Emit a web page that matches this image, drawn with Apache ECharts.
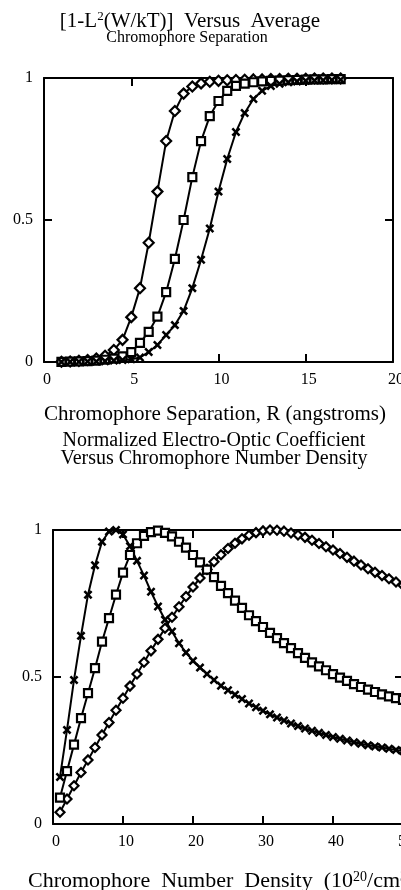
<!DOCTYPE html>
<html>
<head>
<meta charset="utf-8">
<script src="https://cdn.jsdelivr.net/npm/echarts@6/dist/echarts.min.js"></script>
<style>
html,body{margin:0;padding:0;background:#fff;}
#c{width:401px;height:890px;}
</style>
</head>
<body>
<div id="c"></div>
<script>
// ---------- Top chart data: [1-L^2(W/kT)] vs separation R ----------
const topX = [1,1.5,2,2.5,3,3.5,4,4.5,5,5.5,6,6.5,7,7.5,8,8.5,9,9.5,10,10.5,11,11.5,12,12.5,13,13.5,14,14.5,15,15.5,16,16.5,17];
const topDiamond = [0.001,0.002,0.004,0.007,0.012,0.022,0.042,0.078,0.158,0.26,0.42,0.6,0.778,0.884,0.945,0.97,0.981,0.987,0.99,0.992,0.993,0.994,0.995,0.995,0.996,0.996,0.997,0.997,0.997,0.998,0.998,0.998,0.998];
const topSquare = [0.0005,0.001,0.002,0.003,0.005,0.008,0.012,0.02,0.035,0.067,0.106,0.16,0.246,0.363,0.5,0.651,0.778,0.866,0.919,0.955,0.972,0.98,0.985,0.988,0.99,0.991,0.992,0.993,0.994,0.995,0.995,0.996,0.996];
const topCross = [0.0003,0.0006,0.001,0.0015,0.002,0.003,0.005,0.007,0.01,0.016,0.035,0.06,0.095,0.13,0.18,0.26,0.36,0.47,0.6,0.715,0.81,0.877,0.926,0.955,0.972,0.98,0.985,0.988,0.99,0.991,0.992,0.993,0.994];
const topXTicks = [0,5,10,15,20];
const topYTicks = [0,0.5,1];

// ---------- Bottom chart data: normalized EO coefficient vs number density N ----------
const botX = [1,2,3,4,5,6,7,8,9,10,11,12,13,14,15,16,17,18,19,20,21,22,23,24,25,26,27,28,29,30,31,32,33,34,35,36,37,38,39,40,41,42,43,44,45,46,47,48,49,50];
const botCross = [0.16,0.32,0.49,0.64,0.78,0.88,0.96,0.995,1.0,0.985,0.945,0.895,0.845,0.79,0.74,0.695,0.655,0.615,0.583,0.555,0.532,0.51,0.49,0.47,0.455,0.44,0.425,0.41,0.397,0.385,0.373,0.362,0.352,0.342,0.333,0.325,0.317,0.31,0.303,0.296,0.29,0.284,0.278,0.273,0.268,0.264,0.26,0.256,0.252,0.248];
const botSquare = [0.09,0.18,0.27,0.36,0.445,0.53,0.62,0.7,0.78,0.855,0.915,0.955,0.98,0.993,0.998,0.99,0.978,0.96,0.94,0.915,0.89,0.865,0.84,0.81,0.785,0.76,0.735,0.71,0.69,0.67,0.65,0.632,0.615,0.598,0.581,0.565,0.55,0.536,0.523,0.51,0.498,0.487,0.476,0.466,0.457,0.449,0.441,0.434,0.428,0.422];
const botDiamond = [0.04,0.085,0.13,0.175,0.218,0.26,0.303,0.345,0.387,0.428,0.469,0.51,0.55,0.589,0.628,0.666,0.703,0.739,0.774,0.806,0.837,0.866,0.892,0.916,0.937,0.955,0.97,0.982,0.991,0.997,1.0,0.999,0.996,0.99,0.983,0.975,0.965,0.954,0.943,0.932,0.92,0.907,0.894,0.881,0.868,0.856,0.845,0.834,0.823,0.812];
const botXTicks = [0,10,20,30,40,50];
const botYTicks = [0,0.5,1];

// ---------- Text ----------
const topTitle1 = '{n|[1-L}{s|2}{n|(W/kT)]  Versus  Average}';
const topTitle2 = 'Chromophore Separation';
const topXName = 'Chromophore Separation, R (angstroms)';
const botTitle1 = 'Normalized Electro-Optic Coefficient';
const botTitle2 = 'Versus Chromophore Number Density';
const botXName = '{n|Chromophore  Number  Density  (10}{s|20}{n|/cm}{s|3}{n|)}';

const FONT = '"Liberation Serif", "Times New Roman", serif';
const crossPath = 'path://M0,2L2,0L5,3L8,0L10,2L7,5L10,8L8,10L5,7L2,10L0,8L3,5Z';

function pairs(xs, ys){ return xs.map((x,i)=>[x, ys[i]]); }

const chart = echarts.init(document.getElementById('c'), null, {renderer:'canvas'});

function xAx(gi, min, max, interval, pos, showLabel){
  return {
    type:'value', gridIndex:gi, min:min, max:max, interval:interval, position:pos,
    axisLine:{show:true, onZero:false, lineStyle:{color:'#000', width:2}},
    axisTick:{show:true, inside:true, length:8, lineStyle:{color:'#000', width:2}},
    axisLabel:{show:showLabel, color:'#000', fontFamily:FONT, fontSize:16, margin:10, padding:[0,0,0,6]},
    splitLine:{show:false}
  };
}
function yAx(gi, pos, showLabel){
  return {
    type:'value', gridIndex:gi, min:0, max:1, interval:0.5, position:pos,
    axisLine:{show:true, onZero:false, lineStyle:{color:'#000', width:2}},
    axisTick:{show:true, inside:true, length:8, lineStyle:{color:'#000', width:2}},
    axisLabel:{show:showLabel, color:'#000', fontFamily:FONT, fontSize:16, margin:11},
    splitLine:{show:false}
  };
}

function ser(xi, yi, data, symbol, size, filled){
  return {
    type:'line', xAxisIndex:xi, yAxisIndex:yi, data:data,
    symbol:symbol, symbolSize:size, showSymbol:true, showAllSymbol:true,
    lineStyle:{color:'#000', width:2},
    itemStyle: filled ? {color:'#000', borderWidth:0} : {color:'#fff', borderColor:'#000', borderWidth:2.2},
    emphasis:{disabled:true}, silent:true, clip:false
  };
}

const option = {
  animation:false,
  backgroundColor:'#fff',
  grid:[
    {left:44, top:78, width:349, height:284, outerBoundsMode:'none', containLabel:false},
    {left:53, top:530, width:350, height:294, outerBoundsMode:'none', containLabel:false}
  ],
  xAxis:[
    xAx(0, topXTicks[0], topXTicks[topXTicks.length-1], 5, 'bottom', true),
    xAx(0, topXTicks[0], topXTicks[topXTicks.length-1], 5, 'top', false),
    xAx(1, botXTicks[0], botXTicks[botXTicks.length-1], 10, 'bottom', true),
    xAx(1, botXTicks[0], botXTicks[botXTicks.length-1], 10, 'top', false)
  ],
  yAxis:[
    yAx(0,'left',true), yAx(0,'right',false),
    yAx(1,'left',true), yAx(1,'right',false)
  ],
  series:[
    ser(0,0,pairs(topX, topDiamond),'diamond',10,false),
    ser(0,0,pairs(topX, topSquare),'rect',8,false),
    ser(0,0,pairs(topX, topCross), crossPath,9,true),
    ser(2,2,pairs(botX, botDiamond),'diamond',9,false),
    ser(2,2,pairs(botX, botSquare),'rect',8,false),
    ser(2,2,pairs(botX, botCross), crossPath,9,true)
  ],
  graphic:[
    {type:'text', x:190, y:21, silent:true, style:{text:topTitle1, align:'center', verticalAlign:'middle',
      rich:{n:{fontFamily:FONT, fontSize:21, color:'#000'}, s:{fontFamily:FONT, fontSize:13, color:'#000', verticalAlign:'top'}}}},
    {type:'text', x:187, y:38, silent:true, style:{text:topTitle2, align:'center', verticalAlign:'middle', fontFamily:FONT, fontSize:16, fill:'#000'}},
    {type:'text', x:215, y:414, silent:true, style:{text:topXName, align:'center', verticalAlign:'middle', fontFamily:FONT, fontSize:21, fill:'#000'}},
    {type:'text', x:214, y:441, silent:true, style:{text:botTitle1, align:'center', verticalAlign:'middle', fontFamily:FONT, fontSize:20, fill:'#000'}},
    {type:'text', x:214, y:459, silent:true, style:{text:botTitle2, align:'center', verticalAlign:'middle', fontFamily:FONT, fontSize:20, fill:'#000'}},
    {type:'text', x:28, y:881, silent:true, style:{text:botXName, align:'left', verticalAlign:'middle',
      rich:{n:{fontFamily:FONT, fontSize:22, color:'#000'}, s:{fontFamily:FONT, fontSize:14, color:'#000', verticalAlign:'top'}}}}
  ]
};
chart.setOption(option);
</script>
</body>
</html>
